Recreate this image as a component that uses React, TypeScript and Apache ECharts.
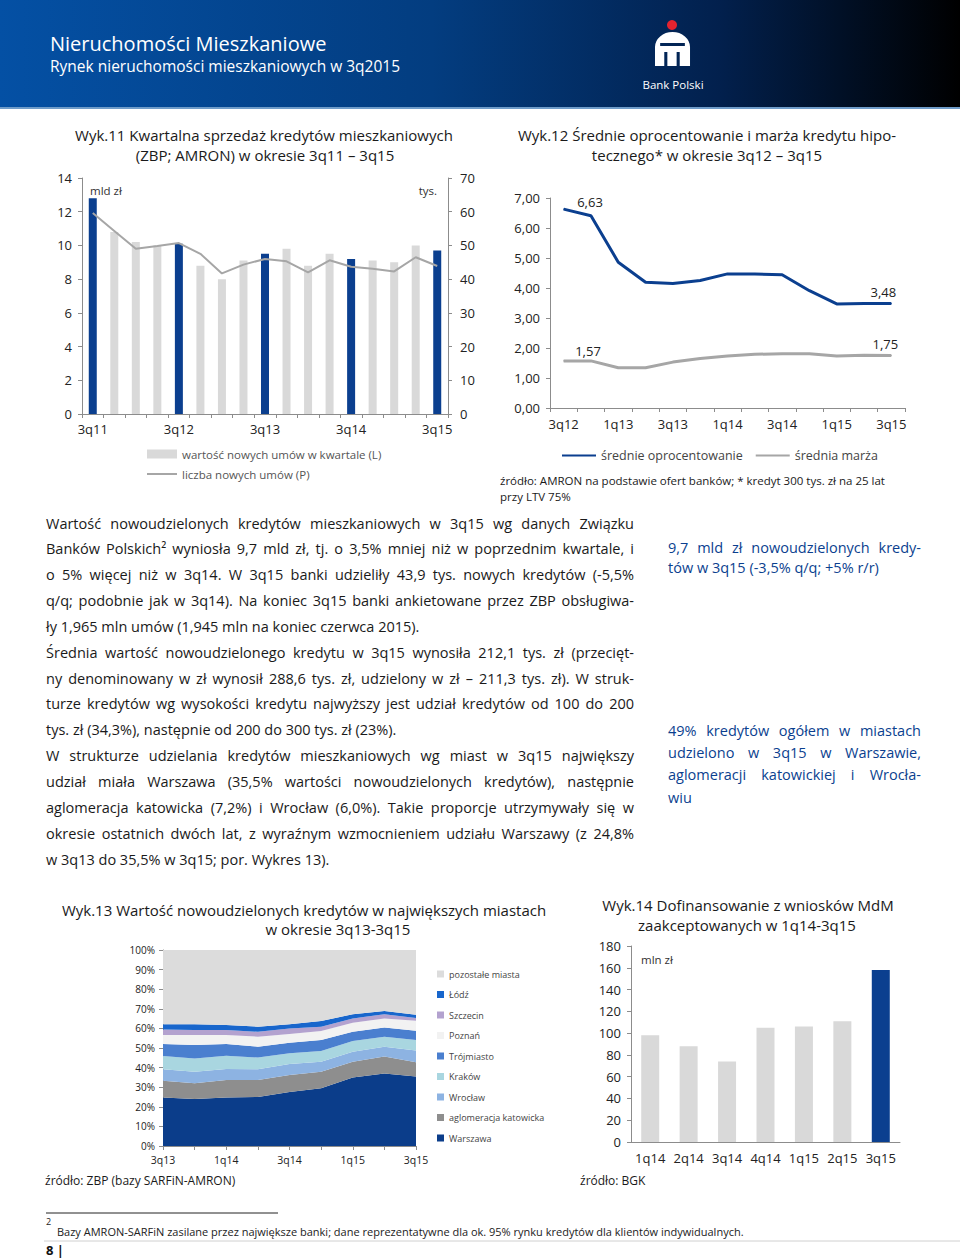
import React, { useEffect, useRef } from "react";
import * as echarts from "echarts";

const FONT = '"Open Sans", "DejaVu Sans", sans-serif';
const BLUE = "#0b3f8f";
const GRAY = "#d9d9d9";
const LINEGRAY = "#a6a6a6";

// ---- Wyk.11 ----
const q11 = ["3q11", "4q11", "1q12", "2q12", "3q12", "4q12", "1q13", "2q13", "3q13", "4q13", "1q14", "2q14", "3q14", "4q14", "1q15", "2q15", "3q15"];
const loanValue = [12.8, 10.8, 10.2, 10.0, 10.1, 8.8, 8.0, 9.1, 9.5, 9.8, 8.8, 9.5, 9.2, 9.1, 9.0, 10.0, 9.7];
const loanCount = [59.6, 54.3, 49.0, 49.8, 50.7, 47.5, 41.7, 44.3, 46.0, 45.3, 42.0, 45.6, 43.7, 43.1, 42.3, 46.5, 43.9];

// ---- Wyk.12 ----
const q12 = ["3q12", "4q12", "1q13", "2q13", "3q13", "4q13", "1q14", "2q14", "3q14", "4q14", "1q15", "2q15", "3q15"];
const avgRate = [6.63, 6.41, 4.86, 4.19, 4.15, 4.25, 4.47, 4.47, 4.44, 3.91, 3.47, 3.48, 3.48];
const avgMargin = [1.57, 1.57, 1.34, 1.34, 1.53, 1.65, 1.73, 1.79, 1.81, 1.81, 1.73, 1.76, 1.75];

// ---- Wyk.13 ----
const q13 = ["3q13", "4q13", "1q14", "2q14", "3q14", "4q14", "1q15", "2q15", "3q15"];
const warszawa = [24.8, 24.0, 24.8, 25.0, 27.5, 29.5, 35.0, 37.0, 35.5];
const katowicka = [8.5, 8.0, 8.9, 8.7, 8.7, 8.4, 8.0, 8.6, 7.2];
const wroclaw = [5.8, 5.9, 5.6, 5.4, 5.6, 5.1, 5.1, 5.1, 6.0];
const krakow = [6.8, 6.8, 6.8, 6.0, 5.5, 5.5, 5.5, 5.1, 5.4];
const trojmiasto = [6.1, 6.8, 5.9, 5.6, 5.4, 5.6, 4.7, 4.6, 4.7];
const poznan = [4.6, 5.1, 4.6, 5.1, 4.4, 4.6, 4.6, 4.6, 5.1];
const szczecin = [2.9, 2.6, 2.6, 2.5, 2.9, 2.2, 2.2, 2.2, 1.4];
const lodz = [2.6, 2.9, 2.5, 2.6, 2.1, 2.9, 2.1, 1.7, 1.7];
const pozostale = [37.9, 37.9, 38.3, 39.1, 37.9, 36.2, 32.8, 31.1, 33.0];

// ---- Wyk.14 ----
const q14 = ["1q14", "2q14", "3q14", "4q14", "1q15", "2q15", "3q15"];
const mdm = [98, 88, 74, 105, 106, 111, 158];

// ---- texts ----
const bodyLines: [string, boolean][] = [
  ["Wartość nowoudzielonych kredytów mieszkaniowych w 3q15 wg danych Związku", true],
  ["Banków Polskich² wyniosła 9,7 mld zł, tj. o 3,5% mniej niż w poprzednim kwartale, i", true],
  ["o 5% więcej niż w 3q14. W 3q15 banki udzieliły 43,9 tys. nowych kredytów (-5,5%", true],
  ["q/q; podobnie jak w 3q14). Na koniec 3q15 banki ankietowane przez ZBP obsługiwa-", true],
  ["ły 1,965 mln umów (1,945 mln na koniec czerwca 2015).", false],
  ["Średnia wartość nowoudzielonego kredytu w 3q15 wynosiła 212,1 tys. zł (przecięt-", true],
  ["ny denominowany w zł wynosił 288,6 tys. zł, udzielony w zł – 211,3 tys. zł). W struk-", true],
  ["turze kredytów wg wysokości kredytu najwyższy jest udział kredytów od 100 do 200", true],
  ["tys. zł (34,3%), następnie od 200 do 300 tys. zł (23%).", false],
  ["W strukturze udzielania kredytów mieszkaniowych wg miast w 3q15 największy", true],
  ["udział miała Warszawa (35,5% wartości nowoudzielonych kredytów), następnie", true],
  ["aglomeracja katowicka (7,2%) i Wrocław (6,0%). Takie proporcje utrzymywały się w", true],
  ["okresie ostatnich dwóch lat, z wyraźnym wzmocnieniem udziału Warszawy (z 24,8%", true],
  ["w 3q13 do 35,5% w 3q15; por. Wykres 13).", false],
];
const callout1: [string, boolean][] = [
  ["9,7 mld zł nowoudzielonych kredy-", true],
  ["tów w 3q15 (-3,5% q/q; +5% r/r)", false],
];
const callout2: [string, boolean][] = [
  ["49% kredytów ogółem w miastach", true],
  ["udzielono w 3q15 w Warszawie,", true],
  ["aglomeracji katowickiej i Wrocła-", true],
  ["wiu", false],
];

const LOGO_D =
  "M0,15 A17,15 0 0 1 34,15 L34,34 L0,34 Z M5,11 L5,14 L29,14 L29,11 Z M9,20 L9,34 L12,34 L12,20 Z M21,20 L21,34 L24,34 L24,20 Z";

let logoRegistered = false;

export default function App() {
  const ref = useRef<HTMLDivElement>(null);

  useEffect(() => {
    if (!ref.current) return;
    if (!logoRegistered) {
      echarts.graphic.registerShape("pkologo", echarts.graphic.extendPath(LOGO_D, {}) as any);
      logoRegistered = true;
    }
    const chart = echarts.init(ref.current, null, { renderer: "svg", width: 960, height: 1260 });

    const canvas = document.createElement("canvas");
    const ctx = canvas.getContext("2d")!;
    const measure = (t: string, size: number) => {
      ctx.font = `${size}px "Open Sans"`;
      return ctx.measureText(t).width;
    };

    const txt = (text: string, x: number, y: number, o: any = {}) => ({
      type: "text",
      x,
      y,
      silent: true,
      style: {
        text,
        fill: o.color || "#1a1a1a",
        fontSize: o.size || 14,
        fontFamily: FONT,
        fontWeight: o.weight || "normal",
        textAlign: o.align || "left",
        textVerticalAlign: "middle",
      },
    });

    const justify = (lines: [string, boolean][], x: number, y0: number, step: number, width: number, size: number, color: string) => {
      const out: any[] = [];
      lines.forEach(([line, just], i) => {
        const y = y0 + i * step;
        if (!just) {
          out.push(txt(line, x, y, { size, color }));
          return;
        }
        const words = line.split(" ");
        const widths = words.map((w) => measure(w, size));
        const total = widths.reduce((a, b) => a + b, 0);
        const gap = words.length > 1 ? (width - total) / (words.length - 1) : 0;
        let cx = x;
        words.forEach((w, k) => {
          out.push(txt(w, cx, y, { size, color }));
          cx += widths[k] + gap;
        });
      });
      return out;
    };

    const axisLab = (size: number, margin: number) => ({ color: "#222", fontSize: size, fontFamily: FONT, margin });
    const axLine = { show: true, lineStyle: { color: "#8c8c8c", width: 1 } };
    const axTick = { show: true, length: 4, interval: 0, lineStyle: { color: "#8c8c8c" } };
    const comma2 = (v: number) => v.toFixed(2).replace(".", ",");

    const cityColors: Record<string, string> = {
      Warszawa: "#0b3d8a",
      "aglomeracja katowicka": "#8e8e8e",
      Wrocław: "#8db3e2",
      Kraków: "#a9d6e0",
      Trójmiasto: "#4a7fcf",
      Poznań: "#f2f2f2",
      Szczecin: "#b3a2cf",
      Łódź: "#1866cc",
      "pozostałe miasta": "#dcdcdc",
    };
    const cityData: [string, number[]][] = [
      ["Warszawa", warszawa],
      ["aglomeracja katowicka", katowicka],
      ["Wrocław", wroclaw],
      ["Kraków", krakow],
      ["Trójmiasto", trojmiasto],
      ["Poznań", poznan],
      ["Szczecin", szczecin],
      ["Łódź", lodz],
      ["pozostałe miasta", pozostale],
    ];

    const graphicEls: any[] = [
      // header
      {
        type: "rect",
        silent: true,
        shape: { x: 0, y: 0, width: 960, height: 107 },
        style: {
          fill: new echarts.graphic.LinearGradient(0, 0, 1, 0, [
            { offset: 0, color: "#0450a4" },
            { offset: 0.45, color: "#033d80" },
            { offset: 0.75, color: "#02204d" },
            { offset: 1, color: "#000000" },
          ]),
        },
      },
      { type: "rect", silent: true, shape: { x: 0, y: 107, width: 960, height: 2 }, style: { fill: "#6f9cc9" } },
      txt("Nieruchomości Mieszkaniowe", 50, 43, { size: 20, color: "#ffffff" }),
      txt("Rynek nieruchomości mieszkaniowych w 3q2015", 50, 66, { size: 15.5, color: "#ffffff" }),
      { type: "circle", silent: true, shape: { cx: 672, cy: 25, r: 5 }, style: { fill: "#e3232f" } },
      { type: "pkologo", silent: true, x: 655, y: 32, scaleX: 1.03, scaleY: 1.0, style: { fill: "#ffffff", stroke: null } },
      txt("Bank Polski", 673, 84, { size: 11.5, color: "#ffffff", align: "center" }),

      // chart 11 texts
      txt("Wyk.11 Kwartalna sprzedaż kredytów mieszkaniowych", 264, 135, { size: 15, align: "center" }),
      txt("(ZBP; AMRON) w okresie 3q11 – 3q15", 265, 155, { size: 15, align: "center" }),
      txt("mld zł", 90, 190, { size: 11.5, color: "#333" }),
      txt("tys.", 437, 190, { size: 11.5, color: "#333", align: "right" }),

      // chart 12 texts
      txt("Wyk.12 Średnie oprocentowanie i marża kredytu hipo-", 707, 135, { size: 15, align: "center" }),
      txt("tecznego* w okresie 3q12 – 3q15", 707, 155, { size: 15, align: "center" }),
      txt("źródło: AMRON na podstawie ofert banków; * kredyt 300 tys. zł na 25 lat", 500, 480, { size: 11.5 }),
      txt("przy LTV 75%", 500, 496, { size: 11.5 }),

      // chart 13 texts
      txt("Wyk.13 Wartość nowoudzielonych kredytów w największych miastach", 304, 910, { size: 15, align: "center" }),
      txt("w okresie 3q13-3q15", 338, 929, { size: 15, align: "center" }),
      txt("źródło: ZBP (bazy SARFiN-AMRON)", 45, 1180, { size: 12 }),

      // chart 14 texts
      txt("Wyk.14 Dofinansowanie z wniosków MdM", 748, 905, { size: 15, align: "center" }),
      txt("zaakceptowanych w 1q14-3q15", 747, 925, { size: 15, align: "center" }),
      txt("mln zł", 641, 959, { size: 11.5, color: "#333" }),
      txt("źródło: BGK", 580, 1180, { size: 12 }),

      // footnote
      { type: "line", silent: true, shape: { x1: 46, y1: 1213, x2: 278, y2: 1213 }, style: { stroke: "#222", lineWidth: 1 } },
      txt("2", 46, 1221, { size: 9, color: "#222" }),
      txt(
        "Bazy AMRON-SARFiN zasilane przez największe banki; dane reprezentatywne dla ok. 95% rynku kredytów dla klientów indywidualnych.",
        57,
        1231,
        { size: 11, color: "#222" }
      ),
      { type: "line", silent: true, shape: { x1: 44, y1: 1241, x2: 960, y2: 1241 }, style: { stroke: "#d0d0d0", lineWidth: 1 } },
      txt("8 |", 46, 1250, { size: 13, weight: "bold", color: "#111" }),

      ...justify(bodyLines, 46, 523, 25.85, 588, 14.5, "#1a1a1a"),
      ...justify(callout1, 668, 547, 20, 253, 14.5, BLUE),
      ...justify(callout2, 668, 730, 22.4, 253, 14.5, BLUE),
    ];

    const option: any = {
      animation: false,
      backgroundColor: "#ffffff",
      textStyle: { fontFamily: FONT },
      grid: [
        { left: 82, top: 178, width: 366, height: 236 },
        { left: 550, top: 198, width: 355, height: 210 },
        { left: 163, top: 950, width: 253, height: 196 },
        { left: 631, top: 946, width: 269, height: 196 },
      ],
      xAxis: [
        {
          gridIndex: 0,
          type: "category",
          data: q11,
          boundaryGap: true,
          axisLine: axLine,
          axisTick: axTick,
          axisLabel: { ...axisLab(13, 8), interval: 3 },
        },
        {
          gridIndex: 1,
          type: "category",
          data: q12,
          boundaryGap: true,
          axisLine: axLine,
          axisTick: axTick,
          axisLabel: { ...axisLab(13, 9), interval: 1 },
        },
        {
          gridIndex: 2,
          type: "category",
          data: q13,
          boundaryGap: false,
          axisLine: axLine,
          axisTick: axTick,
          axisLabel: { ...axisLab(10.5, 8), interval: 1 },
        },
        {
          gridIndex: 3,
          type: "category",
          data: q14,
          boundaryGap: true,
          axisLine: axLine,
          axisTick: { show: false },
          axisLabel: { ...axisLab(13, 9), interval: 0 },
        },
      ],
      yAxis: [
        {
          gridIndex: 0,
          type: "value",
          min: 0,
          max: 14,
          interval: 2,
          position: "left",
          axisLine: axLine,
          axisTick: axTick,
          splitLine: { show: false },
          axisLabel: axisLab(13, 10),
        },
        {
          gridIndex: 0,
          type: "value",
          min: 0,
          max: 70,
          interval: 10,
          position: "right",
          axisLine: axLine,
          axisTick: axTick,
          splitLine: { show: false },
          axisLabel: axisLab(13, 12),
        },
        {
          gridIndex: 1,
          type: "value",
          min: 0,
          max: 7,
          interval: 1,
          axisLine: axLine,
          axisTick: axTick,
          splitLine: { show: false },
          axisLabel: { ...axisLab(13, 10), formatter: (v: number) => comma2(v) },
        },
        {
          gridIndex: 2,
          type: "value",
          min: 0,
          max: 100,
          interval: 10,
          axisLine: axLine,
          axisTick: axTick,
          splitLine: { show: false },
          axisLabel: { ...axisLab(10, 8), formatter: "{value}%" },
        },
        {
          gridIndex: 3,
          type: "value",
          min: 0,
          max: 180,
          interval: 20,
          axisLine: axLine,
          axisTick: axTick,
          splitLine: { show: false },
          axisLabel: axisLab(13, 10),
        },
      ],
      legend: [
        {
          left: 141,
          top: 442,
          orient: "vertical",
          itemWidth: 30,
          itemHeight: 9,
          itemGap: 6,
          selectedMode: false,
          data: [
            { name: "wartość nowych umów w kwartale (L)", icon: "rect" },
            { name: "liczba nowych umów (P)", itemStyle: { opacity: 0 } },
          ],
          textStyle: { fontSize: 11.5, color: "#555", fontFamily: FONT, lineHeight: 14 },
        },
        {
          left: 556,
          top: 444,
          orient: "horizontal",
          itemWidth: 34,
          itemHeight: 12,
          itemGap: 12,
          selectedMode: false,
          itemStyle: { opacity: 0 },
          data: ["średnie oprocentowanie", "średnia marża"],
          textStyle: { fontSize: 12.5, color: "#444", fontFamily: FONT },
        },
        {
          left: 432,
          top: 963,
          orient: "vertical",
          itemWidth: 7,
          itemHeight: 7,
          itemGap: 8.5,
          icon: "rect",
          selectedMode: false,
          data: ["pozostałe miasta", "Łódź", "Szczecin", "Poznań", "Trójmiasto", "Kraków", "Wrocław", "aglomeracja katowicka", "Warszawa"],
          textStyle: { fontSize: 9, color: "#444", fontFamily: FONT, lineHeight: 12 },
        },
      ],
      series: [
        {
          type: "bar",
          name: "wartość nowych umów w kwartale (L)",
          xAxisIndex: 0,
          yAxisIndex: 0,
          barWidth: 8,
          itemStyle: { color: GRAY },
          data: loanValue.map((v, i) => ({
            value: v,
            itemStyle: { color: q11[i].startsWith("3q") ? BLUE : GRAY },
          })),
        },
        {
          type: "line",
          name: "liczba nowych umów (P)",
          xAxisIndex: 0,
          yAxisIndex: 1,
          symbol: "none",
          lineStyle: { color: LINEGRAY, width: 2 },
          itemStyle: { color: LINEGRAY },
          data: loanCount,
        },
        {
          type: "line",
          name: "średnie oprocentowanie",
          xAxisIndex: 1,
          yAxisIndex: 2,
          symbol: "circle",
          symbolSize: 1,
          showSymbol: true,
          showAllSymbol: true,
          lineStyle: { color: BLUE, width: 3 },
          itemStyle: { color: BLUE },
          label: { color: "#222", fontSize: 13, fontFamily: FONT, formatter: (p: any) => comma2(p.value) },
          data: avgRate.map((v, i) =>
            i === 0
              ? { value: v, label: { show: true, position: "right", offset: [8, -7] } }
              : i === avgRate.length - 1
              ? { value: v, label: { show: true, position: "top", offset: [-8, 0] } }
              : v
          ),
        },
        {
          type: "line",
          name: "średnia marża",
          xAxisIndex: 1,
          yAxisIndex: 2,
          symbol: "circle",
          symbolSize: 1,
          showSymbol: true,
          showAllSymbol: true,
          lineStyle: { color: LINEGRAY, width: 3 },
          itemStyle: { color: LINEGRAY },
          label: { color: "#222", fontSize: 13, fontFamily: FONT, formatter: (p: any) => comma2(p.value) },
          data: avgMargin.map((v, i) =>
            i === 0
              ? { value: v, label: { show: true, position: "right", offset: [6, -10] } }
              : i === avgMargin.length - 1
              ? { value: v, label: { show: true, position: "top", offset: [-6, 0] } }
              : v
          ),
        },
        ...cityData.map(([name, vals]) => ({
          type: "line",
          name,
          xAxisIndex: 2,
          yAxisIndex: 3,
          stack: "cities",
          symbol: "none",
          lineStyle: { width: 0 },
          itemStyle: { color: cityColors[name] },
          areaStyle: { color: cityColors[name], opacity: 1 },
          data: vals,
        })),
        {
          type: "bar",
          name: "MdM",
          xAxisIndex: 3,
          yAxisIndex: 4,
          barWidth: 18,
          itemStyle: { color: GRAY },
          data: mdm.map((v, i) => ({ value: v, itemStyle: { color: i === mdm.length - 1 ? BLUE : GRAY } })),
        },
      ],
      graphic: { elements: graphicEls },
    };

    chart.setOption(option);
    return () => chart.dispose();
  }, []);

  return (
    <div
      ref={ref}
      style={{ position: "absolute", left: 0, top: 0, width: 960, height: 1260, background: "#ffffff" }}
    />
  );
}
